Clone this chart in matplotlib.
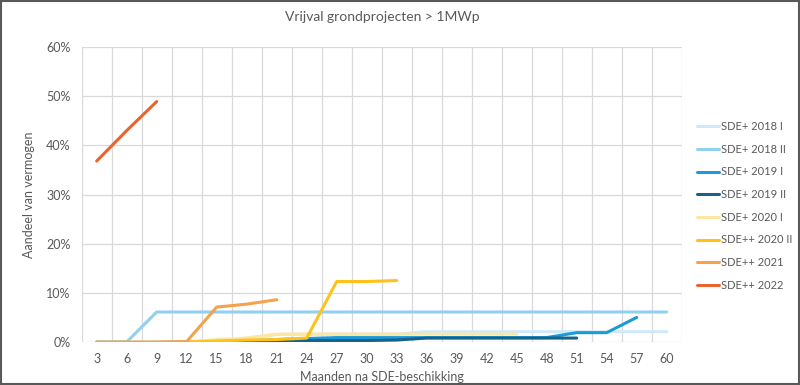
import matplotlib.pyplot as plt
from matplotlib.patches import Rectangle

# categories: months after SDE award
months = [3, 6, 9, 12, 15, 18, 21, 24, 27, 30, 33, 36, 39, 42, 45, 48, 51, 54, 57, 60]

# share of capacity (%) per round, starting at the given month
sde2018_1 = [0, 0, 0, 0.1, 0.3, 0.8, 1.5, 1.6, 1.6, 1.6, 1.6, 2.1, 2.1, 2.1, 2.1, 2.1, 2.1, 2.1, 2.1, 2.1]
sde2018_2 = [0, 0, 6.1, 6.1, 6.1, 6.1, 6.1, 6.1, 6.1, 6.1, 6.1, 6.1, 6.1, 6.1, 6.1, 6.1, 6.1, 6.1, 6.1, 6.1]
sde2019_1 = [0, 0.2, 0.5, 0.7, 0.9, 0.9, 0.9, 0.9, 0.9, 0.9, 0.9, 0.9, 1.9, 1.9, 5.0]
sde2019_2 = [0, 0.1, 0.2, 0.3, 0.3, 0.3, 0.4, 0.8, 0.8, 0.8, 0.8, 0.8, 0.8]
sde2020_1 = [0, 0.5, 0.8, 1.6, 1.6, 1.6, 1.6, 1.6, 1.6, 1.6, 1.6, 1.6]
sde2020_2 = [0, 0.2, 0.4, 0.5, 0.8, 12.3, 12.3, 12.5]
sde2021 = [0, 0, 0, 0.1, 7.1, 7.7, 8.6]
sde2022 = [36.8, 43.0, 48.9]

series = [
    ("SDE+ 2018 I", 3, sde2018_1, "#cfe9f8"),
    ("SDE+ 2018 II", 3, sde2018_2, "#92d0f0"),
    ("SDE+ 2019 I", 15, sde2019_1, "#1f9ad8"),
    ("SDE+ 2019 II", 15, sde2019_2, "#15628a"),
    ("SDE+ 2020 I", 12, sde2020_1, "#ffe6a0"),
    ("SDE++ 2020 II", 12, sde2020_2, "#ffc21a"),
    ("SDE++ 2021", 3, sde2021, "#f4a24c"),
    ("SDE++ 2022", 3, sde2022, "#e9642e"),
]

txt = "#595959"
plt.rcParams['font.family'] = ['Lato', 'DejaVu Sans']

fig = plt.figure(figsize=(8, 3.85), dpi=100)
ax = fig.add_axes([81.7 / 800, 1 - 342 / 385, 600 / 800, 295 / 385])

for name, start, vals, col in series:
    i0 = months.index(start)
    xs = list(range(i0, i0 + len(vals)))
    ax.plot(xs, vals, color=col, linewidth=2.2, label=name, solid_capstyle='round')

ax.set_xlim(-0.5, len(months) - 0.5)
ax.set_ylim(0, 60)
ax.set_xticks(range(len(months)))
ax.set_xticklabels([str(m) for m in months])
ax.set_xticks([i + 0.5 for i in range(-1, len(months))], minor=True)
ax.set_yticks(range(0, 61, 10))
ax.set_yticklabels([f"{v}%" for v in range(0, 61, 10)])
ax.grid(True, which='minor', axis='x', color='#d9d9d9', linewidth=0.9)
ax.grid(True, which='major', axis='y', color='#d9d9d9', linewidth=0.9)
ax.set_axisbelow(True)
for s in ax.spines.values():
    s.set_visible(False)
ax.tick_params(which='both', length=0, labelsize=9, colors=txt, pad=8)

ax.set_xlabel("Maanden na SDE-beschikking", fontsize=9, color=txt, labelpad=4)
ax.set_ylabel("Aandeel van vermogen", fontsize=9, color=txt, labelpad=8)
fig.text(0.4785, 1 - 17 / 385, "Vrijval grondprojecten > 1MWp", ha='center', va='center',
         fontsize=10, color=txt)

ax.legend(loc='center left', bbox_to_anchor=(697 / 800, 0.465), bbox_transform=fig.transFigure,
          frameon=False, fontsize=8, labelcolor=txt, handlelength=2.0, handletextpad=0.2,
          labelspacing=1.05, borderpad=0, borderaxespad=0)

fig.patches.append(Rectangle((0.001, 0.002), 0.998, 0.996, transform=fig.transFigure,
                             fill=False, edgecolor='#595959', linewidth=1.5))

fig.savefig("out.png", dpi=100)
